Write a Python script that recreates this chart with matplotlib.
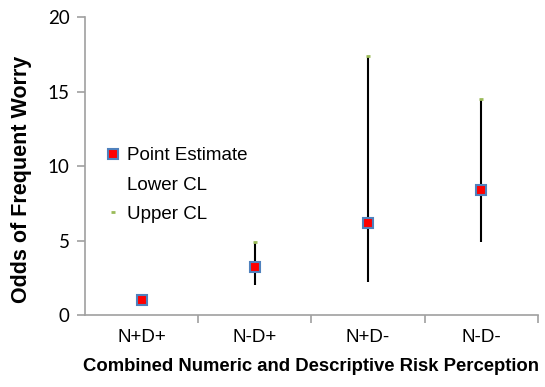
import matplotlib

matplotlib.use("Agg")
import matplotlib.pyplot as plt  # noqa: E402
from matplotlib.lines import Line2D  # noqa: E402

categories = ["N+D+", "N-D+", "N+D-", "N-D-"]
point_est = [1.0, 3.2, 6.2, 8.4]
lower_cl = [1.0, 2.0, 2.2, 4.9]
upper_cl = [1.0, 4.9, 17.4, 14.5]

fig = plt.figure(figsize=(5.45, 3.87), dpi=100)
ax = fig.add_axes([0.156, 0.186, 0.831, 0.770])

xs = list(range(len(categories)))
ax.vlines(xs, lower_cl, upper_cl, color="black", lw=1.5, zorder=2)
ax.plot(xs, upper_cl, ls="none", marker="_", ms=3, mew=2, color="#9bbb59", zorder=3)
ax.plot(xs, point_est, ls="none", marker="s", ms=7.5, mfc="#ff0000", mec="#4f81bd", mew=1.5, zorder=4)

ax.set_xlim(-0.5, len(categories) - 0.5)
ax.set_ylim(0, 20)
ax.set_yticks([0, 5, 10, 15, 20])
ax.set_xticks(xs)
ax.set_xticklabels(categories, fontfamily="Liberation Sans", fontsize=13.5)
ax.set_xticks([i + 0.5 for i in xs], minor=True)
ax.tick_params(axis="x", which="major", length=0, pad=10)
ax.tick_params(axis="x", which="minor", length=6, color="#a0a0a0", width=1.2)
ax.tick_params(axis="y", length=6, color="#a0a0a0", width=1.2, labelsize=13.5, pad=5)
for lab in ax.get_yticklabels():
    lab.set_fontfamily("Lato")

for s in ("top", "right"):
    ax.spines[s].set_visible(False)
for s in ("left", "bottom"):
    ax.spines[s].set_color("#a0a0a0")
    ax.spines[s].set_linewidth(1.2)

ax.set_xlabel("Combined Numeric and Descriptive Risk Perception",
              fontfamily="Liberation Sans", fontweight="bold", fontsize=13.3, labelpad=9)
ax.set_ylabel("Odds of Frequent Worry", fontfamily="Liberation Sans",
              fontweight="bold", fontsize=15.5)
ax.yaxis.set_label_coords(-0.117, 0.455)

handles = [
    Line2D([], [], ls="none", marker="s", ms=6.5, mfc="#ff0000", mec="#4f81bd", mew=1.5),
    Line2D([], [], ls="none"),
    Line2D([], [], ls="none", marker="_", ms=3, mew=2, color="#9bbb59"),
]
ax.legend(handles, ["Point Estimate", "Lower CL", "Upper CL"], loc="upper left",
          bbox_to_anchor=(0.015, 0.62), frameon=False, handlelength=0.5, handletextpad=0.5,
          labelspacing=0.65, prop={"family": "Liberation Sans", "size": 13.5})

fig.savefig("out.png", dpi=100)
